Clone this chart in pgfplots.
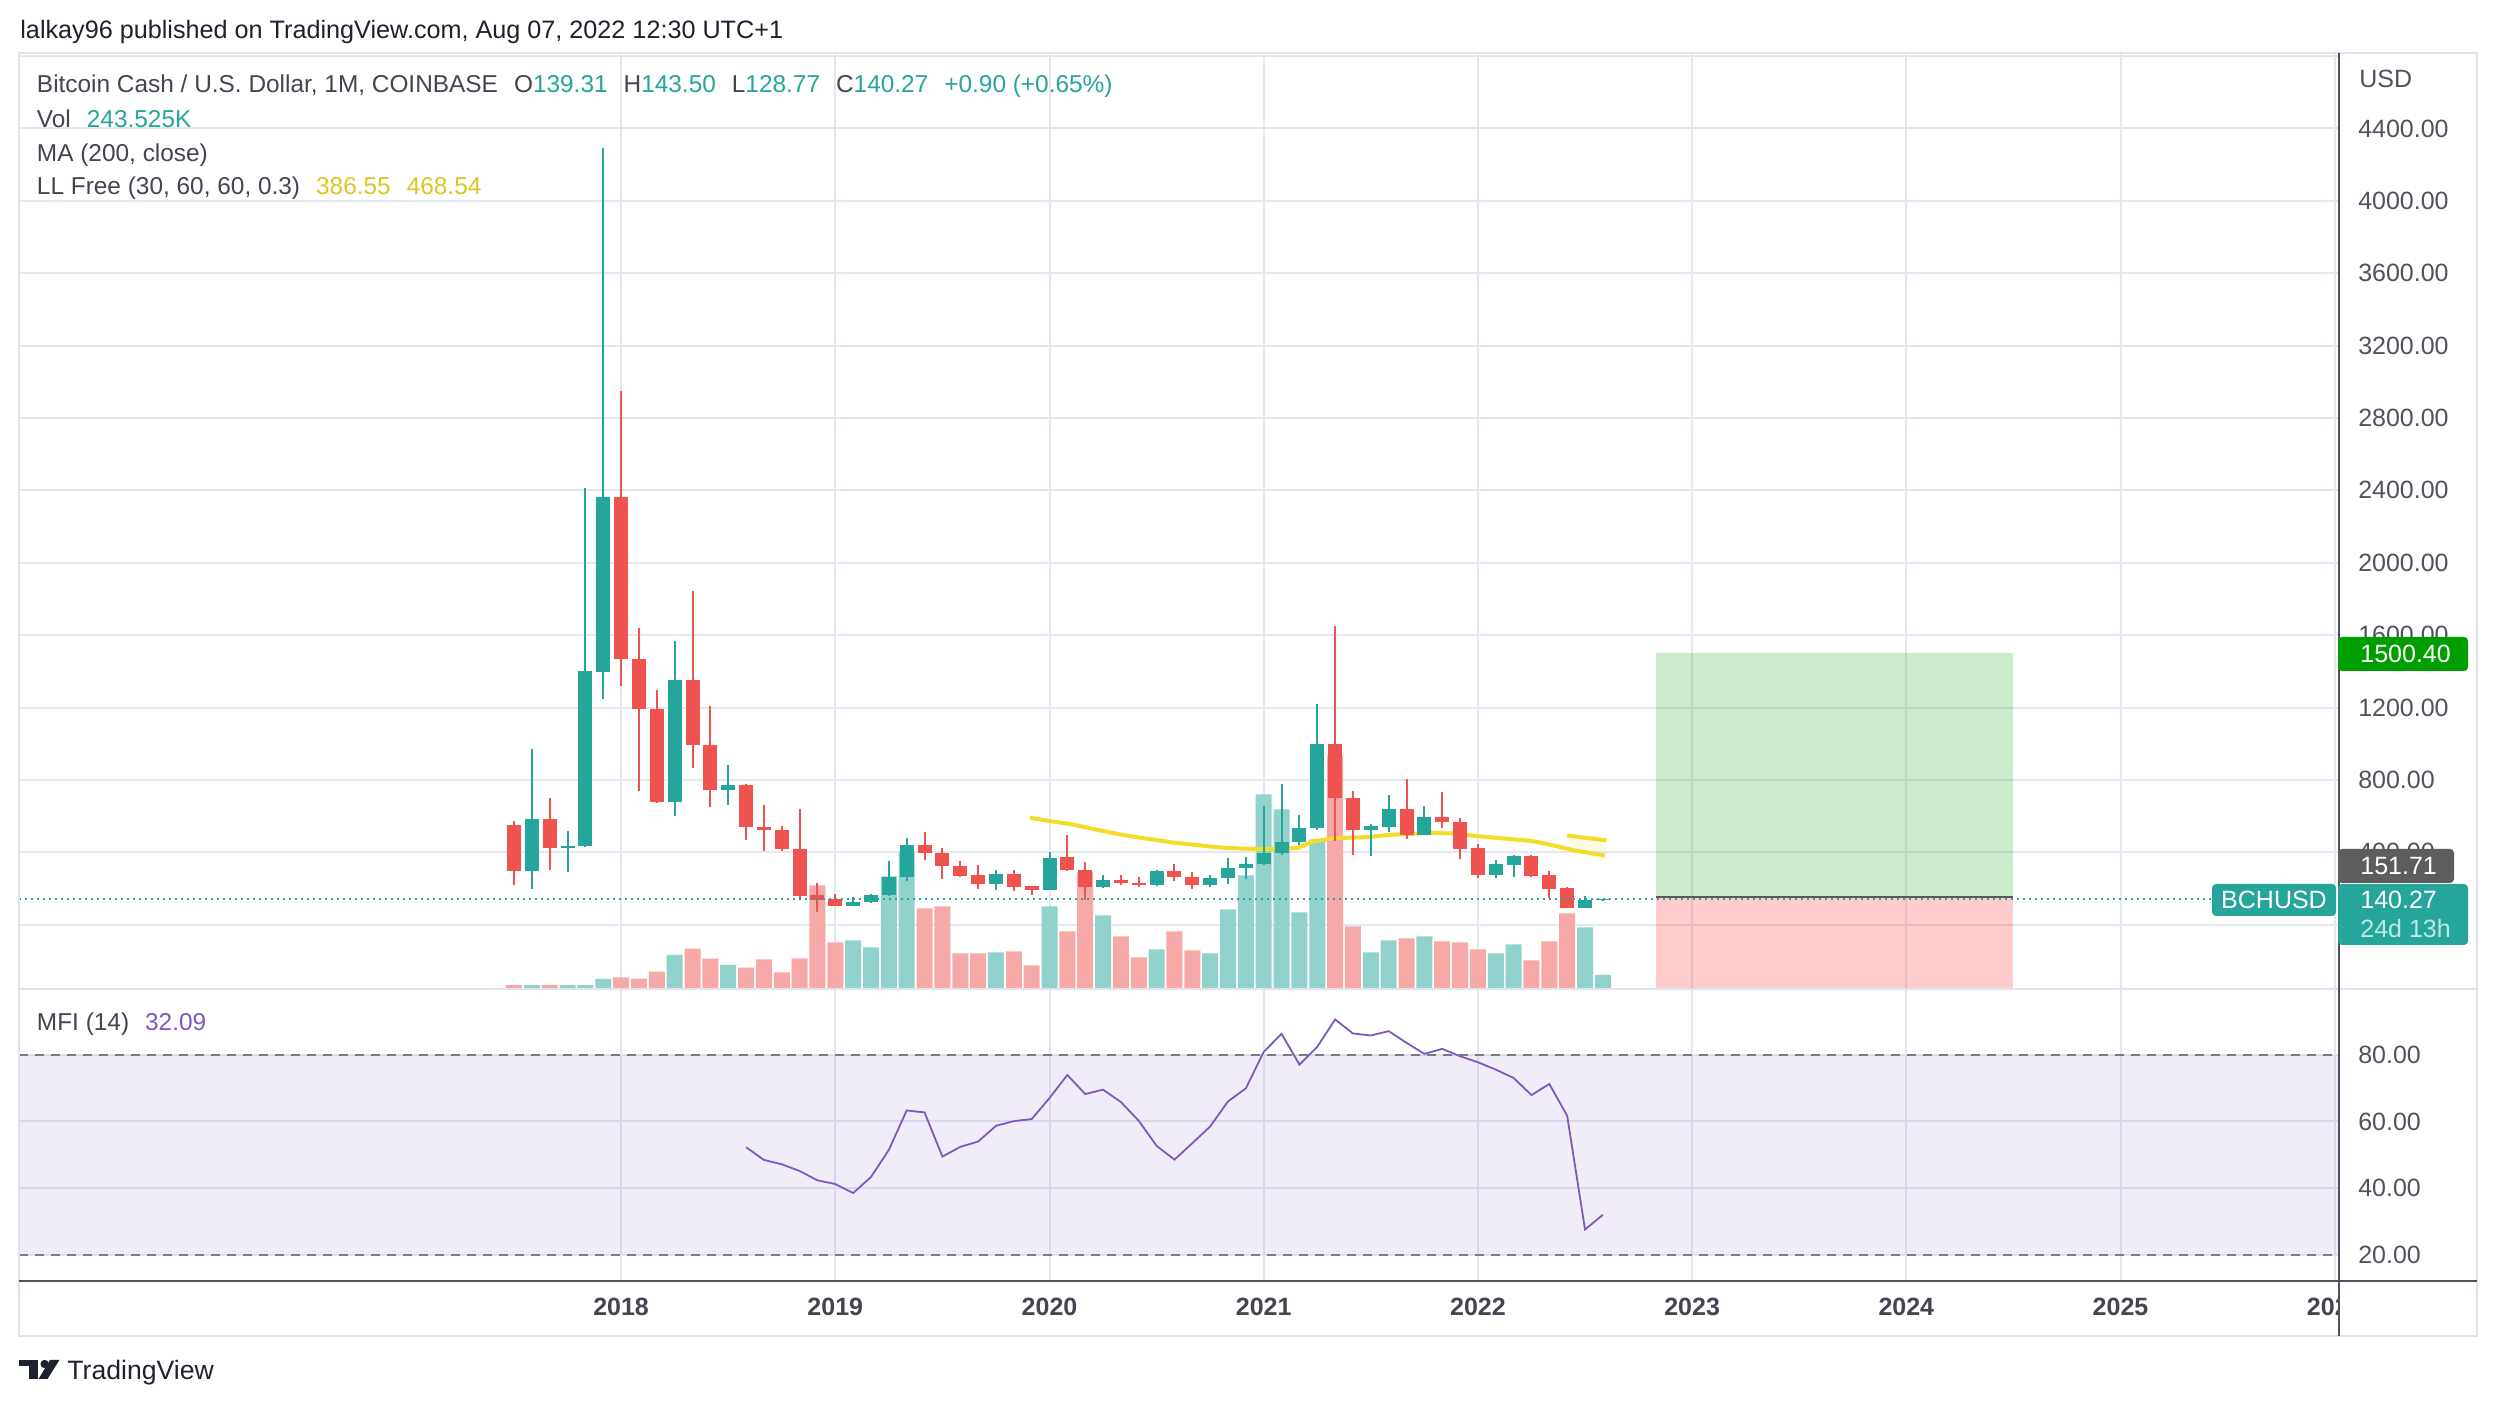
\documentclass[border=0pt]{standalone}
\usepackage{fontspec}
\setmainfont{Liberation Sans}
\usepackage{pgfplots}
\usepackage{pgfplotstable}
\pgfplotsset{compat=1.18}

\definecolor{cup}{RGB}{38,166,154}
\definecolor{cdn}{RGB}{239,83,80}
\definecolor{upv}{RGB}{146,210,204}
\definecolor{dnv}{RGB}{247,169,167}
\definecolor{gridc}{RGB}{226,232,240}
\definecolor{htxt}{RGB}{30,34,45}
\definecolor{ltxt}{RGB}{67,70,81}
\definecolor{axtxt}{RGB}{80,83,94}
\definecolor{axline}{RGB}{80,83,94}
\definecolor{llyel}{RGB}{245,220,40}
\definecolor{mfic}{RGB}{126,87,194}
\definecolor{dashc}{RGB}{120,123,134}
\definecolor{framec}{RGB}{224,227,235}
\definecolor{pgreen}{RGB}{0,158,0}
\definecolor{pgray}{RGB}{93,93,93}
\definecolor{tlight}{RGB}{190,232,226}

\newcommand\hdf{\fontsize{12.6bp}{14bp}\selectfont}
\newcommand\tvf{\fontsize{12.2bp}{14bp}\selectfont}
\newcommand\axf{\fontsize{12.5bp}{14bp}\selectfont}

% monthly candles, m = months from Jan 2018; o h l c; v = volume (K)
\pgfplotstableread{
m o h l c v
-5 295 970 198 586 52
-3 425 518 291 435 52
-2 434 2415 430 1401 52
-1 1398 4290 1249 2362 168
3 677 1565 603 1350 621
6 743 885 660 773 434
13 105 154 104 126 892
14 124 170 118 163 761
15 163 354 160 265 2089
16 263 481 240 440 2556
21 224 304 193 281 668
24 193 404 190 370 1528
27 211 276 205 248 1359
30 217 304 215 298 724
33 221 276 209 260 649
34 258 371 226 315 1472
35 312 376 254 337 2107
36 337 654 332 398 3622
37 396 776 387 459 3342
38 456 609 443 537 1416
39 537 1221 521 998 2781
42 521 559 382 543 668
43 540 715 515 637 892
45 498 654 495 598 967
49 274 357 258 335 649
50 332 385 263 379 817
54 92 158 90 136 1135
55 139.31 143.50 128.77 140.27 243.5
}\upc

\pgfplotstableread{
m o h l c v
-6 552 573 217 295 52
-4 586 700 304 425 52
0 2362 2948 1318 1466 200
1 1469 1640 741 1193 174
2 1193 1295 670 677 305
4 1350 1843 868 993 735
5 993 1206 648 743 548
7 773 778 470 538 380
8 540 659 406 522 537
9 522 548 406 417 294
10 420 637 144 161 555
11 163 231 72 139 1920
12 141 170 103 105 855
17 440 515 359 394 1490
18 396 426 254 322 1528
19 324 354 265 272 649
20 274 331 198 224 649
22 281 304 187 211 686
23 213 215 165 193 424
25 372 498 295 300 1060
26 300 348 135 211 2164
28 248 276 217 233 967
29 233 265 206 217 574
31 298 337 243 265 1060
32 265 293 198 221 705
40 998 1648 465 698 4351
41 700 737 387 521 1154
44 637 804 471 498 929
46 598 732 532 565 873
47 568 587 365 421 855
48 424 448 259 276 724
51 379 385 263 271 518
52 274 297 147 198 873
53 203 208 92 92 1397
}\dnc

\pgfplotstableread{
m v
7 52.3
8 48.5
9 47.2
10 45.2
11 42.4
12 41.3
13 38.6
14 43.4
15 51.5
16 63.3
17 62.7
18 49.5
19 52.4
20 54.0
21 58.7
22 60.1
23 60.7
24 67.0
25 73.9
26 68.2
27 69.5
28 65.8
29 60.2
30 52.7
31 48.6
32 53.5
33 58.5
34 66.0
35 69.9
36 80.8
37 86.2
38 77.0
39 82.3
40 90.5
41 86.3
42 85.7
43 87.0
44 83.5
45 80.2
46 81.7
47 79.5
48 77.7
49 75.5
50 73.0
51 67.9
52 71.2
53 61.7
54 27.7
55 32.09
}\mfitab

\pgfplotsset{
  panel/.style={scale only axis, anchor=south west, width=1160bp,
    xmin=-33.73, xmax=96.25, axis line style={draw=none},
    tick style={draw=none}, major tick length=0pt},
  pricefmt/.style={yticklabel pos=right, scaled y ticks=false,
    yticklabel style={anchor=west, xshift=6bp, text=axtxt, font=\axf,
      /pgf/number format/fixed, /pgf/number format/fixed zerofill,
      /pgf/number format/precision=2, /pgf/number format/1000 sep={},
      /pgf/number format/assume math mode=true}},
  mainbox/.style={panel, at={(9.5bp,208.5bp)}, height=468bp, ymin=-355, ymax=4817},
  wick/.style={only marks, mark=*, mark size=0pt, mark options={draw=none, fill=none},
    error bars/.cd, y dir=both, y explicit,
    error mark=none, error bar style={line width=1bp, color=#1}},
  body/.style={only marks, mark=*, mark size=0pt, mark options={draw=none, fill=none},
    error bars/.cd, y dir=both, y explicit,
    error mark=none, error bar style={line width=7bp, color=#1}},
}

\begin{document}
\begin{tikzpicture}[x=0.5bp,y=0.5bp]
\useasboundingbox[fill=white] (0,0) rectangle (2498,1406);

% price panel: grid, scale and position box
\begin{axis}[mainbox, pricefmt, grid=major,
  major grid style={draw=gridc, line width=1bp},
  xtick={0,12,...,96}, xticklabels={},
  ytick={400,800,...,4400}, extra y ticks={0,4800}, extra y tick labels={},
  extra y tick style={grid=major}]
\addplot[draw=none, fill=pgreen, fill opacity=0.2] coordinates {(58,151.71)(78,151.71)(78,1500.4)(58,1500.4)};
\addplot[draw=none, fill=red, fill opacity=0.2] coordinates {(58,-355)(78,-355)(78,151.71)(58,151.71)};
\addplot[draw=black!65, line width=1bp] coordinates {(58,151.71)(78,151.71)};
\end{axis}

% volume
\begin{axis}[panel, at={(9.5bp,209bp)}, height=467.5bp, ymin=0, ymax=17485, xtick=\empty, ytick=\empty]
\addplot[ybar, bar width=8bp, bar shift=0pt, fill=upv, draw=none] table[x=m, y=v] {\upc};
\addplot[ybar, bar width=8bp, bar shift=0pt, fill=dnv, draw=none] table[x=m, y=v] {\dnc};
\end{axis}

% candles and LL Free line
\begin{axis}[mainbox, xtick=\empty, ytick=\empty]
\addplot[draw=none, fill=llyel, fill opacity=0.12] coordinates {(53.1,490)(55.2,466)(55.2,382)(53.1,409)};
\addplot[llyel, line width=2bp] coordinates {
  (22.9,591)(24,573)(25.3,554)(26.8,522)(28,498)(29,482)(30,468)(31,453)
  (32,443)(33.2,430)(34,424)(35.3,419)(36,419)(37,420)(37.9,424)(38.8,461)
  (39.9,478)(41.8,484)(43.1,497)(44,501)(45.5,508)(46.7,504)(48,489)
  (49.3,478)(51,463)(52.1,441)(53.4,411)(55.1,382)};
\addplot[llyel, line width=2bp] coordinates {(53.0,493)(55.2,466)};
\addplot[wick=cup] table[x=m, y expr={(\thisrow{h}+\thisrow{l})/2}, y error expr={(\thisrow{h}-\thisrow{l})/2}] {\upc};
\addplot[wick=cdn] table[x=m, y expr={(\thisrow{h}+\thisrow{l})/2}, y error expr={(\thisrow{h}-\thisrow{l})/2}] {\dnc};
\addplot[body=cup] table[x=m, y expr={(\thisrow{o}+\thisrow{c})/2}, y error expr={max(abs(\thisrow{c}-\thisrow{o})/2,5)}] {\upc};
\addplot[body=cdn] table[x=m, y expr={(\thisrow{o}+\thisrow{c})/2}, y error expr={max(abs(\thisrow{c}-\thisrow{o})/2,5)}] {\dnc};
\addplot[cup, line width=1bp, dash pattern=on 1bp off 2bp] coordinates {(-33.73,140.27)(89.2,140.27)};
\end{axis}

% MFI panel
\begin{axis}[panel, at={(9.5bp,62.5bp)}, height=146bp, ymin=12.32, ymax=99.6,
  pricefmt, ytick={20,40,60,80}, grid=major,
  major grid style={draw=gridc, line width=1bp},
  xtick={0,12,...,96},
  xticklabels={2018,2019,2020,2021,2022,2023,2024,2025,2026},
  xticklabel style={font=\bfseries\axf, text=ltxt, yshift=-5bp}]
\addplot[draw=none, fill=mfic, fill opacity=0.1] coordinates {(-33.73,20)(96.25,20)(96.25,80)(-33.73,80)};
\addplot[dashc, line width=1bp, dash pattern=on 4.5bp off 3.5bp] coordinates {(-33.73,80)(96.25,80)};
\addplot[dashc, line width=1bp, dash pattern=on 4.5bp off 3.5bp] coordinates {(-33.73,20)(96.25,20)};
\addplot[mfic, line width=0.9bp] table[x=m, y=v] {\mfitab};
\end{axis}

% frame and scale lines
\fill[white] (2340,124) rectangle (2476,71);
\draw[framec, line width=0.8bp] (19,1353) rectangle (2477,70);
\draw[framec, line width=0.8bp] (19,417) -- (2477,417);
\draw[axline, line width=1bp] (2339,1353) -- (2339,70);
\draw[axline, line width=1bp] (19,125) -- (2477,125);

% price labels on the scale
\fill[pgreen, rounded corners=2bp] (2338,769) rectangle (2468,735);
\node[anchor=west, inner sep=0, text=white, font=\axf] at (2360,752) {1500.40};
\fill[pgray, rounded corners=2bp] (2338,557) rectangle (2454,523);
\node[anchor=west, inner sep=0, text=white, font=\axf] at (2360,540) {151.71};
\fill[cup, rounded corners=2bp] (2338,522) rectangle (2468,461);
\node[anchor=west, inner sep=0, text=white, font=\axf] at (2360,506) {140.27};
\node[anchor=west, inner sep=0, text=tlight, font=\axf] at (2360,477) {24d 13h};
\fill[cup, rounded corners=2bp] (2212,522) rectangle (2336,490);
\node[inner sep=0, text=white, font=\axf] at (2274,506) {BCHUSD};
\node[anchor=base west, inner sep=0, text=axtxt, font=\axf] at (2359,1318) {USD};

% texts
\node[anchor=base west, inner sep=0, text=htxt, font=\hdf] at (20,1367)
  {lalkay96 published on TradingView.com, Aug 07, 2022 12:30 UTC+1};
\node[anchor=base west, inner sep=0, font=\tvf] at (36.6,1313)
  {{\color{ltxt}Bitcoin Cash / U.S. Dollar, 1M, COINBASE}\hspace{8bp}{\color{ltxt}O}{\color{cup}139.31}\hspace{8bp}{\color{ltxt}H}{\color{cup}143.50}\hspace{8bp}{\color{ltxt}L}{\color{cup}128.77}\hspace{8bp}{\color{ltxt}C}{\color{cup}140.27}\hspace{8bp}{\color{cup}+0.90 (+0.65\%)}};
\node[anchor=base west, inner sep=0, font=\tvf] at (36.6,1278.5)
  {{\color{ltxt}Vol}\hspace{8bp}{\color{cup}243.525K}};
\node[anchor=base west, inner sep=0, font=\tvf, text=ltxt] at (36.6,1244) {MA (200, close)};
\node[anchor=base west, inner sep=0, font=\tvf] at (36.6,1211)
  {{\color{ltxt}LL Free (30, 60, 60, 0.3)}\hspace{8bp}{\color{llyel!90!black}386.55}\hspace{8bp}{\color{llyel!90!black}468.54}};
\node[anchor=base west, inner sep=0, font=\tvf] at (36.6,375)
  {{\color{ltxt}MFI (14)}\hspace{8bp}{\color{mfic}32.09}};

% TradingView logo
\fill[htxt] (19.4,46) rectangle (37.8,39.5);
\fill[htxt] (28.5,46) rectangle (37.8,27);
\fill[htxt] (44.6,42) circle (4.2);
\fill[htxt] (50,46) -- (59.5,46) -- (47.5,27) -- (38.5,27) -- cycle;
\node[anchor=base west, inner sep=0, text=htxt, font=\fontsize{13.3bp}{15bp}\selectfont] at (67,26) {TradingView};
\end{tikzpicture}
\end{document}
